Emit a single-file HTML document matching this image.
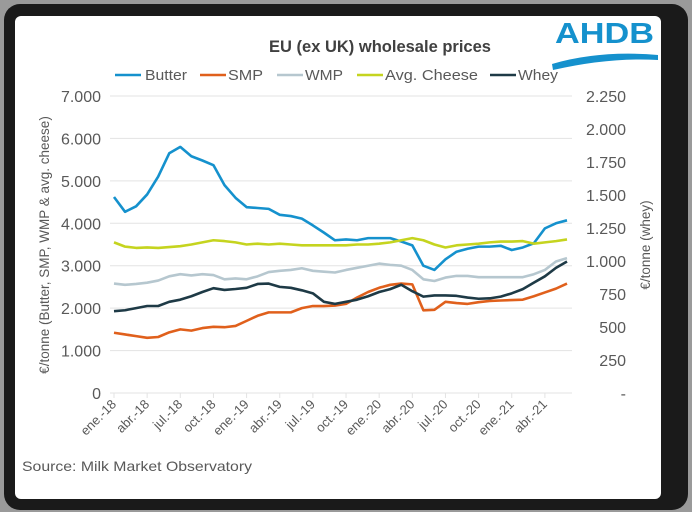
<!DOCTYPE html>
<html><head><meta charset="utf-8"><style>
body{margin:0;background:#9a9a9a;width:692px;height:512px;overflow:hidden}
svg{display:block;font-family:"Liberation Sans",sans-serif}
</style></head><body>
<svg id="c" width="692" height="512" viewBox="0 0 692 512">
<rect x="4" y="4" width="684" height="506" rx="16" fill="#1a1a1a"/>
<rect x="15" y="16" width="646" height="483" rx="6" fill="#ffffff"/>
<text x="380" y="52" text-anchor="middle" font-size="16.5" font-weight="bold" fill="#404040">EU (ex UK) wholesale prices</text>
<g>
<text x="555" y="43" font-size="29" font-weight="bold" fill="#1591cd" textLength="99" lengthAdjust="spacingAndGlyphs">AHDB</text>
<path d="M552 64 Q600 50 658 55 L658 60 Q610 57 553 70Z" fill="#1591cd"/>
</g>
<g id="legend"></g>
<g id="grid"></g><g id="axes"></g><g id="series"></g>
<text transform="translate(49,245) rotate(-90)" text-anchor="middle" font-size="13.5" fill="#595959">€/tonne (Butter, SMP, WMP &amp; avg. cheese)</text>
<text transform="translate(650,245) rotate(-90)" text-anchor="middle" font-size="13.5" fill="#595959">€/tonne (whey)</text>
<text x="22" y="471" font-size="14" fill="#595959" textLength="230" lengthAdjust="spacingAndGlyphs">Source: Milk Market Observatory</text>
</svg>
<script>
const butter=[4620,4270,4400,4680,5100,5650,5800,5580,5480,5370,4900,4600,4380,4360,4340,4200,4170,4110,3950,3780,3600,3620,3600,3650,3650,3650,3570,3480,3000,2900,3150,3330,3400,3450,3450,3470,3370,3430,3530,3880,4000,4070];
const smp=[1420,1380,1340,1300,1320,1430,1500,1470,1530,1560,1550,1580,1700,1820,1900,1900,1900,2000,2050,2050,2060,2100,2250,2380,2480,2550,2580,2560,1950,1960,2150,2120,2100,2140,2170,2180,2190,2200,2280,2370,2460,2580];
const wmp=[2580,2550,2570,2600,2650,2750,2800,2770,2800,2780,2680,2700,2680,2750,2850,2880,2900,2940,2880,2860,2840,2900,2950,3000,3050,3020,3000,2900,2680,2640,2720,2760,2760,2730,2730,2730,2730,2730,2800,2900,3100,3180];
const cheese=[3550,3450,3420,3430,3420,3440,3460,3500,3550,3600,3580,3550,3500,3520,3500,3520,3500,3480,3480,3480,3480,3480,3500,3500,3520,3550,3600,3650,3600,3500,3430,3480,3500,3520,3550,3570,3570,3580,3520,3550,3580,3620];
const whey=[620,627,643,659,659,691,707,733,765,794,781,788,797,826,829,804,797,778,755,691,675,691,707,733,765,787,820,771,730,739,739,736,723,714,717,730,755,787,836,884,948,996];
const leftTicks=[0,1000,2000,3000,4000,5000,6000,7000];
const leftLabels=["0","1.000","2.000","3.000","4.000","5.000","6.000","7.000"];
const rightTicks=[0,250,500,750,1000,1250,1500,1750,2000,2250];
const rightLabels=["-","250","500","750","1.000","1.250","1.500","1.750","2.000","2.250"];
const xLabels=["ene.-18","abr.-18","jul.-18","oct.-18","ene.-19","abr.-19","jul.-19","oct.-19","ene.-20","abr.-20","jul.-20","oct.-20","ene.-21","abr.-21"];
const names=["Butter","SMP","WMP","Avg. Cheese","Whey"];
const colors=["#1591cd","#e0601c","#b6c7cf","#c5d41f","#1e3a46"];
const NS="http://www.w3.org/2000/svg";
const x0=114,x1=567,yTop=96,yBot=393;
const xs=i=>x0+i*(x1-x0)/(butter.length-1);
const yl=v=>yBot-v/7000*(yBot-yTop);
const yr=v=>yBot-v/2250*(yBot-yTop);
function mk(t,a,p){const e=document.createElementNS(NS,t);for(const k in a)e.setAttribute(k,a[k]);p.appendChild(e);return e;}
const grid=document.getElementById('grid'),axes=document.getElementById('axes'),ser=document.getElementById('series'),leg=document.getElementById('legend');
leftTicks.forEach((v,i)=>{
 const l=mk('line',{x1:110,x2:572,y1:yl(v),y2:yl(v),stroke:'#e3e3e3','stroke-width':1},grid);
 
 
 const t=mk('text',{x:101,y:yl(v)+6,'text-anchor':'end','font-size':16,fill:'#595959'},axes);t.textContent=leftLabels[i];
 
 
});
rightTicks.forEach((v,i)=>{
 const t=mk('text',{x:626,y:yr(v)+6,'text-anchor':'end','font-size':16,fill:'#595959'},axes);t.textContent=rightLabels[i];
 
 
});
xLabels.forEach((s,i)=>{
 const x=xs(i*3);
 const tk=mk('line',{x1:x,x2:x,y1:yBot,y2:yBot+5,stroke:'#e3e3e3'},axes);
 
 
 const t=mk('text',{transform:`translate(${x+3},${yBot+12}) rotate(-45)`,'text-anchor':'end','font-size':13,fill:'#595959'},axes);t.textContent=s;
 
 
});
const data=[butter,smp,wmp,cheese,whey];
data.forEach((arr,k)=>{
 const f=k==4?yr:yl;
 const p=mk('polyline',{points:arr.map((v,i)=>xs(i)+','+f(v)).join(' '),fill:'none',stroke:colors[k],'stroke-width':2.6,'stroke-linejoin':'round'},ser);
 
 
});
const lx=[115,200,277,357,490];
const tx=[145,228,305,385,518];
const tw=[42,35,38,93,40];
names.forEach((n,k)=>{
 const g=mk('g',{},leg);
 
 
 mk('line',{x1:lx[k],x2:lx[k]+26,y1:75,y2:75,stroke:colors[k],'stroke-width':2.6},g);
 const t=mk('text',{x:tx[k],y:80,'font-size':14.5,fill:'#595959',textLength:tw[k],lengthAdjust:'spacingAndGlyphs'},g);t.textContent=n;
});
</script>
</body></html>
